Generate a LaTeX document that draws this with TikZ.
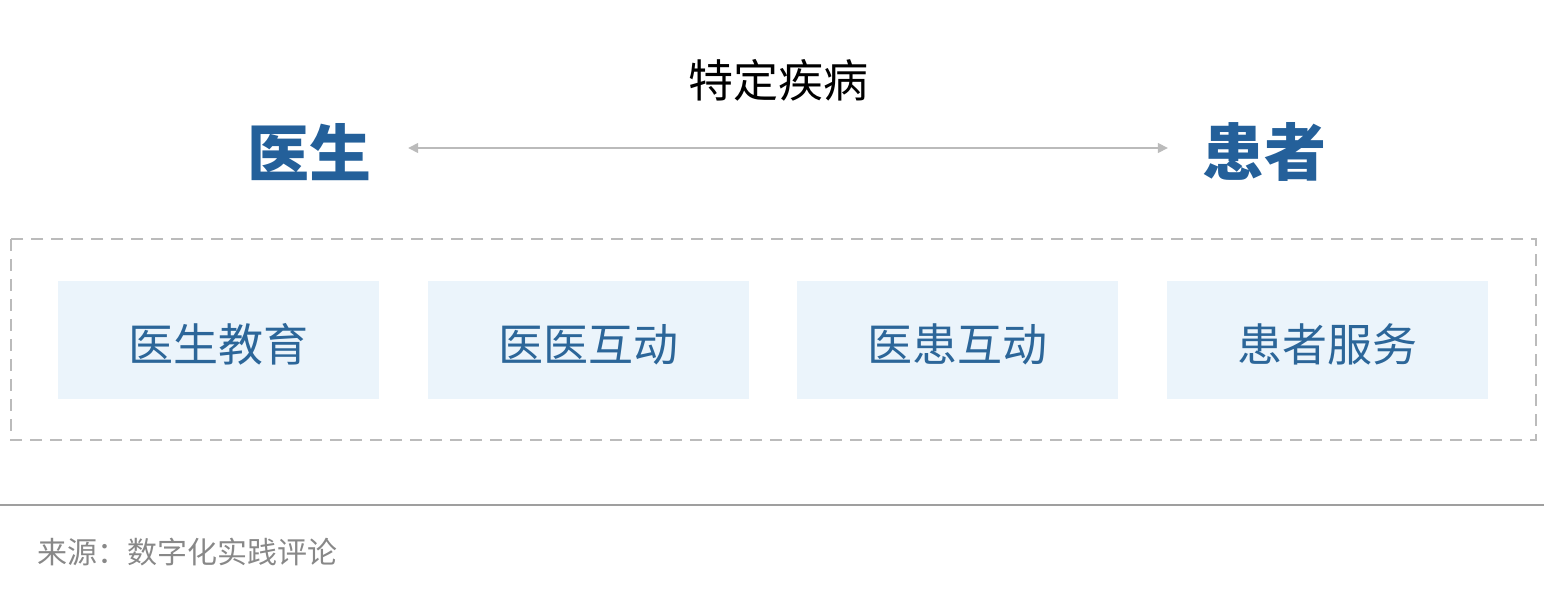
\documentclass[tikz,border=0pt]{standalone}
\usepackage{fontspec}
\newfontfamily\cjk{Noto Sans CJK SC}
\usetikzlibrary{arrows.meta}
\definecolor{docblue}{HTML}{24609A}
\definecolor{boxblue}{HTML}{EBF4FB}
\definecolor{boxtext}{HTML}{2C6699}
\definecolor{linegray}{HTML}{BBBBBB}
\definecolor{notegray}{HTML}{888888}
\tikzset{
  party/.style={text=docblue, inner sep=0pt, font=\cjk\bfseries\fontsize{62}{62}\selectfont},
  topic/.style={fill=boxblue, text=boxtext, inner sep=0pt, minimum width=321pt,
    minimum height=118pt, text height=45pt, text depth=2pt, font=\cjk\fontsize{45}{45}\selectfont},
}

\begin{document}
\begin{tikzpicture}[x=1pt, y=-1pt]
    \useasboundingbox (0,0) rectangle (1544,610);
    \node[font=\cjk\fontsize{45}{45}\selectfont] (disease) at (778,80) {特定疾病};
    \node[party] (doctor) at (309,152) {医生};
    \node[party] (patient) at (1264,152) {患者};
    \draw[linegray, line width=1.5pt, {Triangle[length=10pt,width=10pt]}-{Triangle[length=10pt,width=10pt]},
      shorten <=37pt, shorten >=34pt] ([yshift=4pt]doctor.east) -- ([yshift=4pt]patient.west);
    \draw[linegray, line width=2.8pt, dash pattern=on 12pt off 8pt] (11,239) rectangle (1536,440);
    \foreach \x/\name/\txt in {218.5/edu/医生教育, 588.5/docdoc/医医互动, 957.5/docpat/医患互动, 1327.5/serve/患者服务}
        \node[topic] (\name) at (\x,340) {\txt};
    \draw[linegray!85!black, line width=2pt] (0,505) -- (1544,505);
    \node[anchor=west, inner sep=0pt, text=notegray, font=\cjk\fontsize{30}{30}\selectfont] (source) at (37,552) {来源：数字化实践评论};
\end{tikzpicture}
\end{document}
